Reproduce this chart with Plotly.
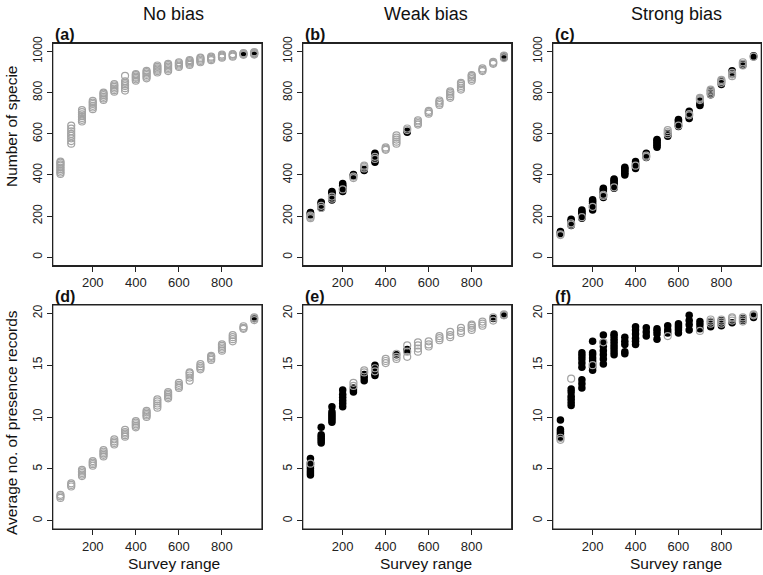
import plotly.graph_objects as go

W, H = 763, 575

survey_range = [50, 100, 150, 200, 250, 300, 350, 400, 450, 500,
                550, 600, 650, 700, 750, 800, 850, 900, 950]
x_ticks = [200, 400, 600, 800]
y_ticks_species = [0, 200, 400, 600, 800, 1000]
y_ticks_records = [0, 5, 10, 15, 20]
col_titles = ["No bias", "Weak bias", "Strong bias"]
panel_labels = ["(a)", "(b)", "(c)", "(d)", "(e)", "(f)"]

# ---- Panel (a): number of species, no bias ----
grey_a = {
    50: [405, 412, 420, 428, 436, 445, 452, 460, 465],
    100: [552, 565, 578, 590, 600, 612, 625, 640],
    150: [660, 668, 677, 686, 695, 705, 715],
    200: [720, 728, 736, 745, 752, 760],
    250: [765, 772, 780, 788, 795, 800],
    300: [805, 812, 820, 828, 835, 842],
    350: [810, 822, 832, 840, 848, 855, 882],
    400: [858, 865, 872, 878, 885, 890],
    450: [870, 878, 886, 893, 900, 906],
    500: [898, 905, 912, 918, 925, 932],
    550: [905, 913, 920, 927, 934, 940],
    600: [925, 931, 937, 943, 948],
    650: [935, 941, 947, 953, 958],
    700: [948, 954, 960, 966, 970],
    750: [958, 964, 970, 975],
    800: [970, 975, 980, 985],
    850: [975, 980, 985, 988],
    900: [984, 987, 990, 992],
    950: [985, 989, 993, 997],
}
black_a = {900: [988], 950: [988, 994]}

# ---- Panel (b): number of species, weak bias ----
black_b = {
    50: [205, 210, 215, 218],
    100: [240, 248, 255, 262, 268],
    150: [278, 285, 292, 300, 308, 315, 320],
    200: [320, 328, 335, 343, 350, 358],
    250: [395, 400, 402],
    300: [422, 426],
    350: [462, 470, 480, 490, 498, 505],
    500: [608, 612],
    950: [972, 978],
}
grey_b = {
    50: [190, 196, 202],
    100: [240, 250],
    150: [285, 295],
    200: [330],
    250: [385, 392],
    300: [432, 440, 445],
    350: [478, 488],
    400: [522, 528, 534],
    450: [552, 562, 572, 582, 592],
    500: [618, 626],
    550: [645, 652, 660, 666],
    600: [698, 705, 712],
    650: [740, 748, 756, 762],
    700: [775, 783, 792, 800, 806],
    750: [815, 824, 833, 842, 848],
    800: [858, 866, 874, 882, 886],
    850: [905, 911, 918],
    900: [940, 945, 950],
    950: [968, 975, 980],
}

# ---- Panel (c): number of species, strong bias ----
black_c = {
    50: [115, 120, 125],
    100: [155, 162, 170, 178, 185],
    150: [190, 198, 206, 214, 222, 230],
    200: [230, 242, 252, 262, 272, 280],
    250: [290, 298, 306, 314, 322, 330, 336],
    300: [335, 342, 350, 358, 366, 374, 380],
    350: [400, 408, 416, 424, 432, 437],
    400: [432, 440, 448, 456, 465],
    450: [485, 492, 500, 506],
    500: [535, 543, 551, 559, 567, 572],
    550: [588, 595, 602],
    600: [635, 642, 650, 658, 665, 670],
    650: [675, 682, 702, 710],
    700: [738, 745, 760],
    750: [790, 797, 804, 810],
    800: [840, 848, 858],
    850: [892, 900, 906],
    900: [935, 940],
    950: [975, 980],
}
grey_c = {
    50: [108, 112],
    100: [158, 165],
    150: [195],
    200: [245],
    250: [298, 304],
    300: [340],
    400: [445],
    450: [488, 494],
    550: [598, 608, 618],
    600: [640],
    650: [690, 696],
    700: [764, 770, 775],
    750: [792, 800, 808, 815],
    800: [848, 856, 862],
    850: [880, 888, 896],
    900: [932, 940, 948],
    950: [975],
}

# ---- Panel (d): average presence records, no bias ----
grey_d = {
    50: [2.2, 2.35, 2.5],
    100: [3.3, 3.45, 3.6],
    150: [4.3, 4.45, 4.6, 4.75, 4.9],
    200: [5.3, 5.45, 5.6, 5.75],
    250: [6.2, 6.35, 6.5, 6.65, 6.8],
    300: [7.35, 7.5, 7.65, 7.85],
    350: [8.1, 8.25, 8.4, 8.55, 8.75],
    400: [9.0, 9.15, 9.3, 9.45, 9.6],
    450: [10.0, 10.15, 10.3, 10.45, 10.6],
    500: [10.9, 11.1, 11.3, 11.5, 11.7],
    550: [11.8, 11.95, 12.1, 12.25, 12.4],
    600: [12.8, 12.95, 13.1, 13.3],
    650: [13.5, 13.8, 14.0, 14.2, 14.3],
    700: [14.6, 14.75, 14.9, 15.1],
    750: [15.5, 15.65, 15.8, 15.9],
    800: [16.4, 16.55, 16.7, 16.85, 17.0],
    850: [17.3, 17.5, 17.7, 17.9],
    900: [18.5, 18.6, 18.75],
    950: [19.35, 19.5, 19.6],
}
black_d = {950: [19.5]}

# ---- Panel (e): average presence records, weak bias ----
black_e = {
    50: [4.4, 4.6, 4.8, 5.0, 5.2, 5.4, 5.6, 6.0],
    100: [7.5, 7.7, 7.9, 8.1, 8.3, 9.0],
    150: [9.5, 9.7, 9.9, 10.1, 10.3, 10.5, 11.0],
    200: [11.0, 11.3, 11.6, 11.9, 12.2, 12.6],
    250: [12.4, 12.6, 12.8],
    300: [13.5, 13.8, 14.1],
    350: [14.0, 14.2, 14.8, 15.0],
    450: [16.0],
    500: [16.4, 16.5],
    900: [19.5],
    950: [19.8],
}
grey_e = {
    50: [5.5],
    250: [13.0, 13.3],
    300: [14.3, 14.5],
    350: [14.4, 14.7],
    400: [15.2, 15.4, 15.6],
    450: [15.6, 15.8, 16.1],
    500: [15.8, 16.3, 16.9],
    550: [16.3, 16.6, 16.9, 17.2],
    600: [16.8, 17.0, 17.3],
    650: [17.4, 17.6, 17.8],
    700: [17.7, 17.9, 18.2],
    750: [18.1, 18.3, 18.6],
    800: [18.4, 18.6, 18.8, 18.9],
    850: [18.8, 19.0, 19.2],
    900: [19.3, 19.6],
    950: [19.8, 19.9],
}

# ---- Panel (f): average presence records, strong bias ----
black_f = {
    50: [8.0, 8.2, 8.4, 8.6, 8.8, 9.7],
    100: [11.1, 11.4, 11.7, 12.0, 12.4, 12.7],
    150: [12.8, 13.2, 13.6, 14.8, 15.2, 15.6, 15.9, 16.2],
    200: [14.5, 14.8, 15.1, 15.4, 15.7, 16.0, 16.2, 17.3],
    250: [15.1, 15.6, 16.0, 16.4, 16.8, 17.2, 17.9],
    300: [16.0, 16.3, 16.6, 16.9, 17.2, 17.5, 17.8, 18.0],
    350: [16.1, 16.3, 17.0, 17.3, 17.7],
    400: [17.0, 17.3, 17.6, 18.0, 18.4, 18.7],
    450: [17.8, 18.2, 18.6],
    500: [17.5, 18.0, 18.3, 18.5],
    550: [18.1, 18.4, 18.8],
    600: [18.1, 18.4, 18.6, 18.8, 19.0],
    650: [18.4, 18.9, 19.3, 19.8],
    700: [18.5, 18.9, 19.2],
    750: [18.7, 19.0, 19.2],
    800: [18.8, 19.1, 19.3],
    850: [19.1],
    900: [19.3, 19.5],
    950: [19.6, 19.8],
}
grey_f = {
    50: [7.8, 8.0],
    100: [13.7],
    200: [15.0],
    250: [17.2],
    550: [17.8],
    700: [18.3],
    750: [19.0, 19.2, 19.4],
    800: [19.0, 19.2, 19.4],
    850: [19.3, 19.5, 19.6],
    900: [19.2, 19.4, 19.6],
    950: [19.8, 19.9],
}

panels = [
    (black_a, grey_a), (black_b, grey_b), (black_c, grey_c),
    (black_d, grey_d), (black_e, grey_e), (black_f, grey_f),
]

FONT = "Liberation Sans, Arial, Helvetica, sans-serif"
GREY = "#a3a3a3"
AX = "#222222"

# pixel geometry (left, right) columns; (top, bottom) rows
cols_px = [(52.7, 262.0), (302.7, 511.7), (552.7, 761.3)]
rows_px = [(43.3, 265.5), (305.0, 529.0)]
title_cx = [173.5, 426.0, 676.0]


def flat(d):
    xs, ys = [], []
    for k in survey_range:
        for v in d.get(k, []):
            xs.append(k)
            ys.append(v)
    return xs, ys


fig = go.Figure()
layout = {}
shapes = []
for i, (blk, gry) in enumerate(panels):
    r, c = divmod(i, 3)
    n = i + 1
    xa = "x" if n == 1 else f"x{n}"
    ya = "y" if n == 1 else f"y{n}"
    bx, by = flat(blk)
    gx, gy = flat(gry)
    fig.add_trace(go.Scatter(
        x=bx, y=by, mode="markers", xaxis=xa, yaxis=ya, showlegend=False,
        hoverinfo="skip",
        marker=dict(symbol="circle", size=7.5, color="black", line=dict(width=0))))
    fig.add_trace(go.Scatter(
        x=gx, y=gy, mode="markers", xaxis=xa, yaxis=ya, showlegend=False,
        hoverinfo="skip",
        marker=dict(symbol="circle-open", size=7, color=GREY, line=dict(width=1.2, color=GREY))))

    L, R = cols_px[c]
    T, B = rows_px[r]
    axcommon = dict(showline=True, mirror=True, linecolor=AX, linewidth=1.2,
                    ticks="outside", ticklen=5, tickcolor=AX, tickwidth=1.2,
                    showgrid=False, zeroline=False, layer="above traces")
    layout["xaxis" if n == 1 else f"xaxis{n}"] = dict(
        domain=[L / W, R / W], anchor=ya, range=[14, 986],
        tickmode="array", tickvals=x_ticks, ticktext=[str(t) for t in x_ticks],
        tickfont=dict(family=FONT, size=13, color="#222"),
        **axcommon)
    if r == 0:
        yr, yt = [-40, 1040], y_ticks_species
    else:
        yr, yt = [-0.8, 20.8], y_ticks_records
    layout["yaxis" if n == 1 else f"yaxis{n}"] = dict(
        domain=[1 - B / H, 1 - T / H], anchor=xa, range=yr,
        tickmode="array", tickvals=yt, ticktext=[str(t) for t in yt], tickangle=-90,
        tickfont=dict(family=FONT, size=12, color="#222"),
        **axcommon)
    # frame around each panel, drawn in the panel's own domain coordinates
    shapes.append(dict(type="rect", xref=f"{xa} domain", yref=f"{ya} domain",
                       x0=0, x1=1, y0=0, y1=1,
                       line=dict(color=AX, width=1.2), fillcolor="rgba(0,0,0,0)",
                       layer="above"))

annotations = []
for c in range(3):
    annotations.append(dict(text=col_titles[c], x=title_cx[c] / W, y=1 - 14 / H,
                            xref="paper", yref="paper", showarrow=False,
                            xanchor="center", yanchor="middle",
                            font=dict(family=FONT, size=18, color="#111")))
    annotations.append(dict(text="Survey range", x=title_cx[c] / W, y=1 - 563 / H,
                            xref="paper", yref="paper", showarrow=False,
                            xanchor="center", yanchor="middle",
                            font=dict(family=FONT, size=15.5, color="#111")))
for i, lab in enumerate(panel_labels):
    r, c = divmod(i, 3)
    L = cols_px[c][0]
    T = rows_px[r][0]
    annotations.append(dict(text=f"<b>{lab}</b>", x=(L + 0.5) / W, y=1 - (T - 9) / H,
                            xref="paper", yref="paper", showarrow=False,
                            xanchor="left", yanchor="middle",
                            font=dict(family=FONT, size=16, color="#111")))
annotations.append(dict(text="Number of specie", x=11 / W, y=1 - 127 / H,
                        xref="paper", yref="paper", showarrow=False, textangle=-90,
                        xanchor="center", yanchor="middle",
                        font=dict(family=FONT, size=15.5, color="#111")))
annotations.append(dict(text="Average no. of presence records", x=11 / W, y=1 - 423 / H,
                        xref="paper", yref="paper", showarrow=False, textangle=-90,
                        xanchor="center", yanchor="middle",
                        font=dict(family=FONT, size=15.5, color="#111")))

fig.update_layout(width=W, height=H, margin=dict(l=0, r=0, t=0, b=0, autoexpand=False),
                  paper_bgcolor="white", plot_bgcolor="white", hovermode=False,
                  annotations=annotations, shapes=shapes, **layout)
fig.write_html("out.html", config={"displayModeBar": False},
               post_script="document.body.style.margin='0';document.body.style.padding='0';")
